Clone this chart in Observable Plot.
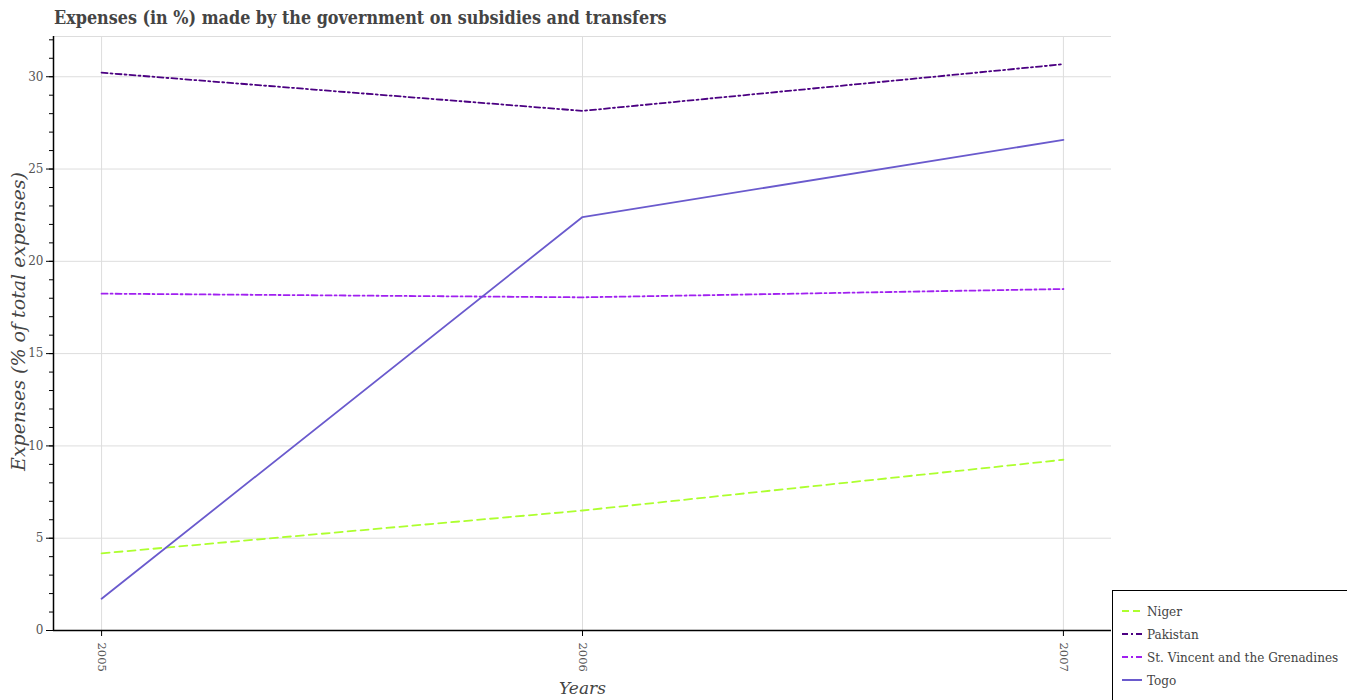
<!DOCTYPE html>
<html>
<head>
<meta charset="utf-8">
<script src="https://cdn.jsdelivr.net/npm/d3@7"></script>
<script src="https://cdn.jsdelivr.net/npm/@observablehq/plot@0.6"></script>
<style>
  body { margin: 0; background: #fff; width: 1347px; height: 700px; overflow: hidden; position: relative; }
  #title { position: absolute; left: 54px; top: 7px; font-family: "DejaVu Serif Condensed", "DejaVu Serif", serif; font-weight: bold; font-size: 17.8px; color: #444; white-space: nowrap; }
  #chart { position: absolute; left: 0; top: 30px; }
  #legend { position: absolute; left: 1112px; top: 590px; width: 240px; height: 120px; border-top: 1px solid #000; border-left: 1px solid #000; background: #fff; font-family: "DejaVu Serif Condensed", "DejaVu Serif", serif; font-size: 13.4px; color: #444; }
  .row { position: absolute; left: 0; height: 20px; display: flex; align-items: center; white-space: nowrap; }
  .row svg { margin-left: 9px; margin-right: 5px; }
</style>
</head>
<body>
<div id="title">Expenses (in %) made by the government on subsidies and transfers</div>
<div id="chart"></div>
<div id="legend"></div>
<script>
const years = [2005, 2006, 2007];
const seriesNames = ["Niger", "Pakistan", "St. Vincent and the Grenadines", "Togo"];
const niger = [4.18, 6.5, 9.25];
const pakistan = [30.22, 28.15, 30.68];
const stVincent = [18.25, 18.05, 18.5];
const togo = [1.72, 22.4, 26.58];
const yTicks = [0, 5, 10, 15, 20, 25, 30];

const colors = ["#adff2f", "#4b0082", "#a020f0", "#6a5acd"];
const dashes = ["8,5", "6,3,2,3", "6,3,2,3", null];
const values = [niger, pakistan, stVincent, togo];

const rows = [];
seriesNames.forEach((s, i) => years.forEach((y, j) => rows.push({series: s, year: y, value: values[i][j]})));

const xDomain = [2004.9, 2007.1];
const yDomain = [0, 32.18];
const serif = "DejaVu Serif";

const lineMarks = seriesNames.map((s, i) => Plot.line(rows.filter(d => d.series === s), {
  x: "year", y: "value", stroke: colors[i], strokeWidth: 1.8,
  strokeDasharray: dashes[i] || undefined
}));

const chart = Plot.plot({
  width: 1347,
  height: 670,
  marginTop: 6,
  marginBottom: 70,
  marginLeft: 53,
  marginRight: 236,
  style: { fontFamily: serif, fontSize: "12px", color: "#555", background: "transparent" },
  x: { domain: xDomain, label: null },
  y: { domain: yDomain, label: null },
  marks: [
    Plot.gridX(years, { stroke: "#dddddd", strokeOpacity: 1 }),
    Plot.gridY(yTicks, { stroke: "#dddddd", strokeOpacity: 1 }),
    Plot.ruleY([yDomain[1]], { stroke: "#dddddd" }),
    ...lineMarks,
    Plot.axisY(d3.range(0, 33), { tickSize: 4, text: null, stroke: "#000", label: null }),
    Plot.axisY(yTicks, { tickSize: 7, tickPadding: 3, stroke: "#000", fill: "#555", fontSize: 12, label: null }),
    Plot.axisX(years, { tickSize: 6, tickPadding: 6, tickRotate: 90, stroke: "#000", fill: "#555", fontSize: 11.5, tickFormat: d => String(d), label: null }),
    Plot.ruleX([xDomain[0]], { stroke: "#000", strokeWidth: 1.5 }),
    Plot.ruleY([0], { stroke: "#000", strokeWidth: 1.5 }),
    Plot.text(["Expenses (% of total expenses)"], { frameAnchor: "left", textAnchor: "middle", lineAnchor: "middle", rotate: -90, dx: -35, dy: -12, fontSize: 19, fontStyle: "italic", fill: "#444" }),
    Plot.text(["Years"], { frameAnchor: "bottom", textAnchor: "middle", lineAnchor: "middle", dy: 58, fontSize: 17, fontStyle: "italic", fill: "#444" })
  ]
});
document.getElementById("chart").appendChild(chart);

const legend = document.getElementById("legend");
seriesNames.forEach((s, i) => {
  const row = document.createElement("div");
  row.className = "row";
  row.style.top = (10 + i * 23) + "px";
  row.innerHTML = `<svg width="20" height="10"><line x1="0" y1="5" x2="20" y2="5" stroke="${colors[i]}" stroke-width="2" ${dashes[i] ? `stroke-dasharray="${i === 0 ? "7,4" : "6,3,2,3"}"` : ""}/></svg><span>${s}</span>`;
  legend.appendChild(row);
});
</script>
</body>
</html>
